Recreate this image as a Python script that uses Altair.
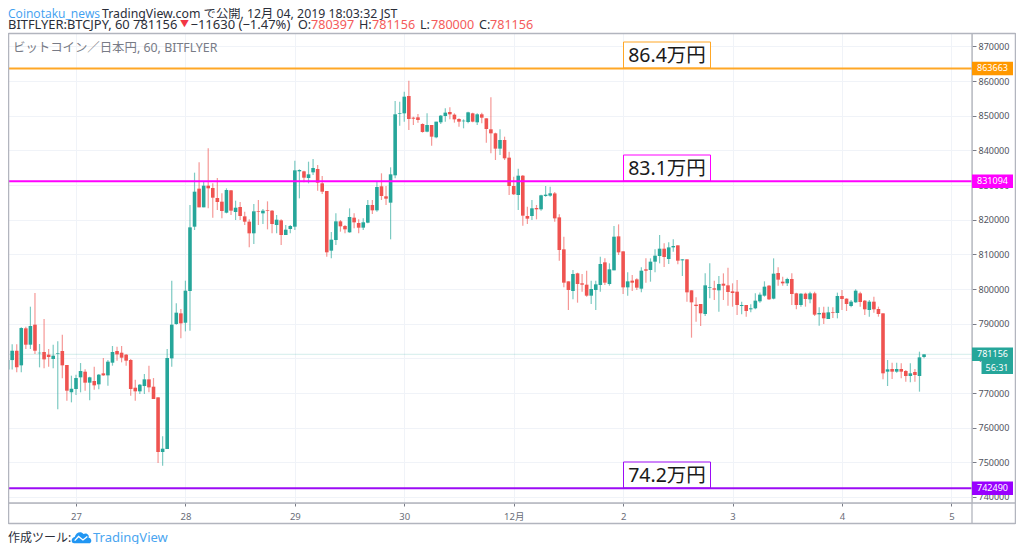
import altair as alt
import pandas as pd

first_hour = -15  # hours relative to Nov 27 00:00
opens = [
776800,779500,782200,777980,788660,783940,789720,781440,781830,781060,
779810,781250,782120,778080,770190,771150,774520,776150,772980,773460,
772500,775670,775090,778750,782120,781630,781060,779520,771530,770480,
772010,773940,771820,768740,752970,753830,780000,789910,792990,790290,
799440,818000,828970,823580,829830,829160,826280,825220,822040,828490,
822230,823680,820980,819450,816080,822520,821850,822810,822620,818480,
819830,815600,817330,818000,833970,833970,832050,833680,834640,830510,
828300,811080,814150,819540,818190,816370,820600,819060,817720,819160,
824260,822720,829650,826760,824930,832820,850520,850710,855720,849460,
849560,847640,845420,847350,843790,848120,849940,851100,850330,849080,
848410,848210,850710,848120,850430,849270,846100,844940,840520,843020,
837920,829740,827140,832720,821080,821080,823390,823010,826860,826950,
827600,820690,811460,802220,799430,804530,801650,801260,798090,799720,
801170,807710,801450,805400,815210,810880,800490,802420,802800,800110,
805690,805490,807900,809530,811650,808670,812030,812610,808280,808570,
799630,795490,795680,792800,800400,800200,799630,801550,801070,799340,
799240,795110,795400,794150,794440,796460,798090,800980,797230,804630,
802130,801650,802900,798760,795400,798670,797030,798760,792700,793180,
791360,793380,793090,797990,797230,795110,796170,798760,796650,793950,
796360,794240,792990,776160,776930,776160,776930,776350,774910,776060,
774910,780397]
highs = [
781250,784100,784100,788950,789140,794910,798850,784140,791350,782700,
783940,784900,786830,778080,775000,775290,778650,776820,774710,777590,
775480,780100,779520,783560,783370,783560,781250,779810,773840,772590,
775480,777880,774320,768740,757490,782700,802410,795880,794240,802410,
824250,833590,836570,830990,840610,830510,832050,827620,829070,828580,
825510,825120,822330,820120,824540,825700,823100,825310,822810,821370,
820120,818480,818480,837050,834550,834160,836760,837530,835800,832620,
828300,816460,821850,819930,818480,823290,821850,820120,820410,825700,
825700,830990,833400,829740,835130,854270,854080,856970,860140,849750,
850520,847830,850710,847350,848310,850230,852160,852450,850710,849270,
848980,851200,850910,850710,850910,849270,855330,845130,846100,843980,
839650,832440,834740,832920,823780,825700,824260,827240,829740,829550,
828000,821560,815110,802220,805490,804720,804340,805300,802420,802420,
809340,808860,807420,818190,818670,810880,804820,804050,803090,806260,
808860,808860,811460,815600,813190,813480,814340,812610,808570,808570,
799630,797610,795680,804530,807420,802420,803760,804530,806170,801650,
802610,796360,795400,795590,798760,799000,802230,801170,808860,806270,
803570,803280,804540,798960,798760,798960,799240,799240,794720,794920,
794920,794720,798960,799730,797320,796840,799920,799240,796840,796840,
797800,794920,792990,779520,778750,778750,778560,776640,778560,776930,
781930,781156]
lows = [
772100,776800,775960,775960,782700,782700,781250,777400,777110,777590,
777110,765280,774230,767780,767300,769420,770190,770670,767880,770960,
771050,775000,772110,777880,779330,778850,777880,769230,767780,769710,
769710,770190,768260,749790,749020,753830,777590,789700,785770,787790,
787980,817040,823580,823580,823290,820600,822810,820410,821850,821370,
819930,819930,818480,812040,813000,818480,818770,817230,816080,816080,
812710,815600,816080,817040,826180,830800,830510,832910,828390,827430,
809340,808860,812710,816560,816080,816270,817520,816080,817040,818970,
821660,822340,825700,824260,814350,831950,847150,848310,845900,847350,
848020,845130,845230,841380,843500,847640,848310,848980,848020,846870,
846390,847830,848120,847350,847830,842250,839170,837250,838690,837250,
827140,827140,822820,818300,818780,819930,820120,822620,826660,826660,
819440,808190,800490,793950,797030,796070,799240,797800,795680,793950,
799240,801170,800970,805400,809820,798570,798090,799430,799720,799050,
801840,802130,804820,807420,806360,807230,810780,807130,803760,796360,
785970,790580,789330,792220,797320,796840,793470,796840,795200,794910,
792510,792700,792030,793280,794150,796070,797800,796840,797030,800980,
800980,800880,795400,794150,794920,794920,795880,792220,789430,789910,
791360,791650,791550,793950,793670,794720,796070,794920,792510,792030,
793180,792030,773950,772020,774040,775870,774230,773270,773080,773270,
770390,780000]
closes = [
779500,782200,777400,788750,783940,789330,782200,781630,779710,780380,
780770,781440,777980,770670,771250,774320,776340,772980,774520,772210,
775290,775090,779040,781830,781150,780190,779330,771150,770480,772400,
773940,771630,768260,752970,753930,780100,789720,793180,790100,799530,
817810,828100,823580,829830,829070,826370,825120,822520,828580,822620,
823480,821080,819450,816080,822430,822330,822620,822620,818770,820020,
815600,817140,818190,834260,834360,832140,833110,834930,830700,828100,
810600,814250,819540,818100,817230,820790,819250,817710,819260,824260,
822720,829450,826860,826090,833110,850430,850710,855520,849080,849170,
848790,845330,847350,843980,848310,850040,850910,850430,848980,848310,
848600,851000,848310,850430,849460,846190,844940,840520,843020,837730,
829740,827340,832720,821180,820320,823300,823010,827050,827240,827630,
820400,811270,801840,799720,804340,801450,801260,798090,800010,801360,
807230,801840,805690,815110,810590,800490,802220,801840,800400,805300,
805300,807900,809630,811650,809250,812030,812420,808190,808570,799050,
796160,795100,793000,801070,800590,799820,801450,800970,799150,798860,
795390,795400,793670,794440,796650,798380,800690,797030,804440,802710,
801650,802900,798570,795400,798670,797130,798760,792610,793090,791550,
793280,793180,797990,797130,795690,796360,799530,796260,794150,796360,
794150,792800,775680,776830,776160,776930,776160,774910,775680,775200,
780290,781156]

level_values = [863663, 831094, 742490]
level_colors = ["#ffa726", "#ff00ff", "#9c0cf5"]
tag_colors = ["#ff9800", "#ff00ff", "#9900ff"]
level_notes = ["86.4万円", "83.1万円", "74.2万円"]
last_price = 781156
countdown = "56:31"
y_ticks = list(range(740000, 880000, 10000))
day_hours = [0, 24, 48, 72, 96, 120, 144, 168, 192]
day_labels = ["27", "28", "29", "30", "12月", "2", "3", "4", "5"]

GREEN, RED = "#26a69a", "#ef5350"
TXT, GREY, FRAME = "#2a2e39", "#6a6d78", "#b2b5be"
FONT = "Noto Sans, Noto Sans CJK JP"

# page coordinates -> chart coordinates
W, H = 964, 470
PL, PT = 0, 25
def px(x): return x - 8
def py(y): return y - 33

df = pd.DataFrame({"hour": [first_hour + i for i in range(len(opens))],
                   "o": opens, "h": highs, "l": lows, "c": closes})
df["dir"] = ["up" if c >= o else "down" for o, c in zip(opens, closes)]
colors = alt.Color("dir:N", scale=alt.Scale(domain=["up", "down"], range=[GREEN, RED]), legend=None)

xs = alt.Scale(domain=[-14.914, 196.52], nice=False, zero=False, padding=0)
ys = alt.Scale(domain=[738254, 873896], nice=False, zero=False, padding=0)
label_expr = "[" + ",".join("'%s'" % d for d in day_labels) + "][datum.value/24]"
x_axis = alt.Axis(values=day_hours, grid=True, gridColor="#f0f3f8", gridWidth=1, domain=False, title=None,
                  tickColor="#787b86", tickSize=3, labelColor=GREY, labelFont=FONT, labelFontSize=9.5,
                  labelPadding=5, labelOverlap=False, labelFlush=False, labelExpr=label_expr)
y_axis = alt.Axis(values=y_ticks, orient="right", grid=True, gridColor="#f0f3f8", gridWidth=1, domain=False, title=None,
                  tickColor="#787b86", tickSize=4, labelColor="#50535e", labelFont=FONT, labelFontSize=9,
                  labelPadding=2, labelOverlap=False, format="d")
X = alt.X("hour:Q", scale=xs, title=None, axis=x_axis)
Y = lambda f: alt.Y(f, type="quantitative", scale=ys, title=None, axis=y_axis)

base = alt.Chart(df)
wicks = base.mark_rule(strokeWidth=1.2, opacity=0.6).encode(x=X, y=Y("l"), y2="h:Q", color=colors)
bodies = base.mark_bar(size=3.6, strokeWidth=0).encode(x=X, y=Y("o"), y2="c:Q", color=colors)

def hrule(values, color, width, x0, x1, opacity=1.0):
    d = pd.DataFrame({"v": values})
    return alt.Chart(d).mark_rule(color=color, strokeWidth=width, opacity=opacity).encode(
        x=alt.value(x0), x2=alt.value(x1), y=Y("v"))

def text(t, x, y, color=TXT, size=12.8, align="left", font=FONT, **kw):
    d = alt.Data(values=[{"t": t}])
    return alt.Chart(d).mark_text(text=t, x=x, y=y, color=color, fontSize=size, align=align,
                                  baseline="middle", font=font, **kw)

def box(x0, x1, y0, y1, fill=None, stroke=None, sw=1):
    kw = {"fill": fill if fill else "transparent"}
    if stroke:
        kw.update(stroke=stroke, strokeWidth=sw)
    d = alt.Data(values=[{"a": 1}])
    return alt.Chart(d).mark_rect(**kw).encode(x=alt.value(x0), x2=alt.value(x1), y=alt.value(y0), y2=alt.value(y1))

layers = [hrule([last_price], GREEN, 1.4, 0, W, 0.16), wicks, bodies]

# annotation boxes above the levels
note_tops = [42, 155, 462]
for note, top, v, c, lc in zip(level_notes, note_tops, level_values, tag_colors, level_colors):
    layers.append(box(px(623.5), px(710.5), py(top), py(top + 26), fill="white", stroke=lc, sw=1))
    layers.append(text(note, px(667), py(top + 13.5), color="#1a1a1a", size=19.5, align="center"))
for v, lc in zip(level_values, level_colors):
    layers.append(hrule([v], lc, 2, 0, W))

# frame
FC = dict(color=FRAME, strokeWidth=1.3)
def vline(x, y0, y1):
    d = alt.Data(values=[{"a": 1}])
    return alt.Chart(d).mark_rule(**FC).encode(x=alt.value(x), y=alt.value(y0), y2=alt.value(y1))
def hline(y, x0, x1):
    d = alt.Data(values=[{"a": 1}])
    return alt.Chart(d).mark_rule(**FC).encode(y=alt.value(y), x=alt.value(x0), x2=alt.value(x1))
RIGHT = 1015.4
layers += [hline(py(33.5), 0.5, px(RIGHT)), hline(py(503), 0.5, px(RIGHT)), hline(py(523.5), 0.5, px(RIGHT)),
           vline(0.6, py(33), py(524)), vline(px(972), py(33), py(524)), vline(px(RIGHT), py(33), py(524))]

# price tags
for v, c in zip(level_values + [last_price], tag_colors + [GREEN]):
    layers.append(hrule([v], c, 13.5, px(972), px(1013)))
    d = pd.DataFrame({"v": [v], "t": [str(v)]})
    layers.append(alt.Chart(d).mark_text(color="white", fontSize=9, font=FONT, align="center", baseline="middle").encode(
        x=alt.value(px(992.5)), y=Y("v"), text="t:N"))
layers.append(box(px(981.5), px(1013), py(361), py(374), fill=GREEN))
layers.append(text(countdown, px(997), py(367.5), color="white", size=9, align="center"))

# header
HY1, HY2 = py(13.8), py(25)
layers += [
    text("Coinotaku_news", px(8), HY1, color="#3f9ff0", size=12.1, font="Open Sans"),
    text("TradingView.com で公開, 12月 04, 2019 18:03:32 JST", px(102), HY1, size=12.3),
    text("BITFLYER:BTCJPY, 60 781156", px(8), HY2, size=12.9),
    text("▼", px(180), HY2 - 1, color="#f23645", size=9),
    text("−11630 (−1.47%)", px(190.5), HY2, size=13),
]
for lab, lx, val, vx in [("O:", 298, "780397", 311), ("H:", 359, "781156", 372),
                         ("L:", 420, "780000", 431), ("C:", 479, "781156", 490)]:
    layers.append(text(lab, px(lx), HY2, size=12.6))
    layers.append(text(val, px(vx), HY2, color="#f45b5b", size=12.6))

layers.append(text("ビットコイン／日本円, 60, BITFLYER", px(13), py(47.5), color="#787b86", size=12.4))

# footer
layers.append(text("作成ツール:", px(8), py(537.5), color="#2a2e39", size=12))
cloud = ("M-0.75,0.6 C-1.1,0.6 -1.1,0 -0.7,-0.05 C-0.6,-0.5 -0.05,-0.75 0.2,-0.35 "
         "C0.55,-0.55 0.85,-0.2 0.72,0.02 C1.1,0.05 1.1,0.6 0.75,0.6 Z")
zig = "M-0.7,0.32 L-0.3,-0.1 L0.15,0.25 L0.6,-0.1"
one = alt.Data(values=[{"a": 1}])
layers.append(alt.Chart(one).mark_point(shape=cloud, filled=True, size=380, color="#2196f3", opacity=1,
                                        x=px(81.5), y=py(537.5)))
layers.append(alt.Chart(one).mark_point(shape=zig, filled=False, size=380, color="white", strokeWidth=1.4, opacity=1,
                                        x=px(81.5), y=py(537.5)))
layers.append(text("TradingView", px(93), py(537.5), color="#4aa5f0", size=13))

chart = alt.layer(*layers).properties(
    width=W, height=H,
    padding={"left": PL, "top": PT, "right": 44, "bottom": 41},
    autosize=alt.AutoSizeParams(type="none"),
).configure_view(stroke=None).configure(background="white")

chart.save("out.html", embed_options={"renderer": "svg", "actions": False})
